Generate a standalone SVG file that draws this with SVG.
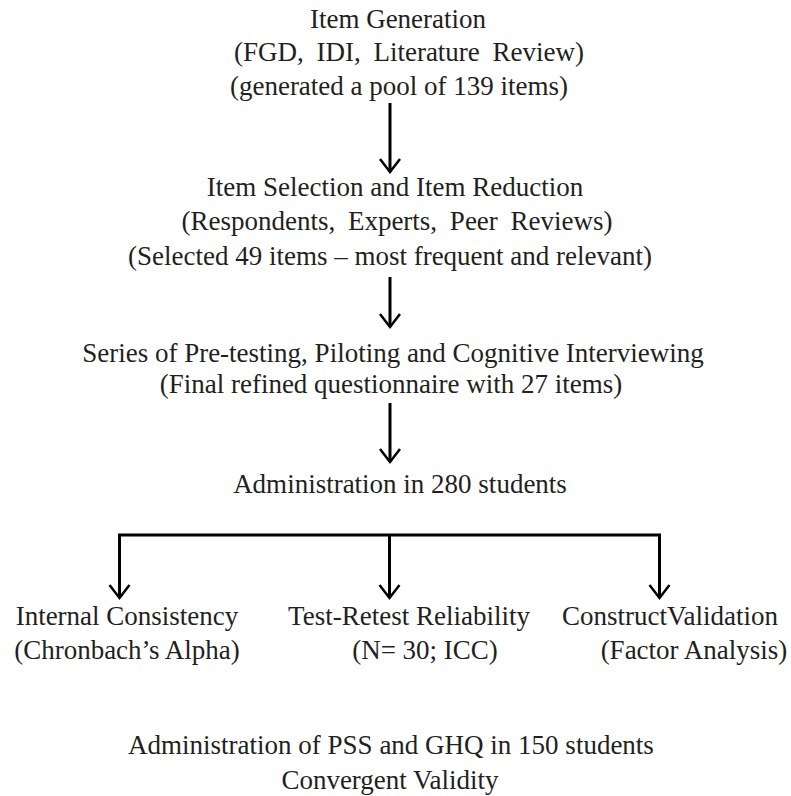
<svg xmlns="http://www.w3.org/2000/svg" width="791" height="796" viewBox="0 0 791 796">
<style>
  text { font-family: "Liberation Serif", "Times New Roman", serif; font-size: 27px; fill: #231f20; }
  .c { text-anchor: middle; }
  .wide { word-spacing: 6px; }
  .conn { stroke: #000; stroke-width: 3; fill: none; }
</style>
<defs>
  <marker id="head" markerUnits="userSpaceOnUse" orient="auto" refX="0" refY="0" markerWidth="20" markerHeight="26" viewBox="-16 -13 20 26" overflow="visible">
    <path d="M -13 -10 L 0 0 L -13 10" fill="none" stroke="#000" stroke-width="2.5" stroke-linejoin="miter"/>
  </marker>
</defs>
<rect width="791" height="796" fill="#fff"/>
<g id="item-generation">
  <text class="c" x="398" y="28">Item Generation</text>
  <text class="c wide" x="409" y="61">(FGD, IDI, Literature Review)</text>
  <text class="c" x="399" y="95">(generated a pool of 139 items)</text>
</g>
<g id="item-selection">
  <text class="c" x="395" y="196">Item Selection and Item Reduction</text>
  <text class="c wide" x="397" y="230">(Respondents, Experts, Peer Reviews)</text>
  <text class="c" x="390" y="265">(Selected 49 items – most frequent and relevant)</text>
</g>
<g id="pretesting">
  <text class="c" x="393" y="362">Series of Pre-testing, Piloting and Cognitive Interviewing</text>
  <text class="c" x="391" y="393">(Final refined questionnaire with 27 items)</text>
</g>
<g id="administration">
  <text class="c" x="400" y="493">Administration in 280 students</text>
</g>
<g id="internal-consistency">
  <text class="c" x="127" y="625">Internal Consistency</text>
  <text class="c" x="127" y="659">(Chronbach’s Alpha)</text>
</g>
<g id="test-retest">
  <text class="c" x="409" y="625">Test-Retest Reliability</text>
  <text class="c" x="425" y="659">(N= 30; ICC)</text>
</g>
<g id="construct-validation">
  <text class="c" x="670" y="625">ConstructValidation</text>
  <text class="c" x="694" y="659">(Factor Analysis)</text>
</g>
<g id="convergent-validity">
  <text class="c" x="391" y="754">Administration of PSS and GHQ in 150 students</text>
  <text class="c" x="390" y="789">Convergent Validity</text>
</g>
<g id="connectors">
  <line class="conn" x1="390" y1="103" x2="390" y2="172" marker-end="url(#head)"/>
  <line class="conn" x1="390" y1="277" x2="390" y2="327" marker-end="url(#head)"/>
  <line class="conn" x1="390" y1="403" x2="390" y2="462" marker-end="url(#head)"/>
  <line class="conn" x1="118" y1="535" x2="661" y2="535"/>
  <line class="conn" x1="119.5" y1="535" x2="119.5" y2="598" marker-end="url(#head)"/>
  <line class="conn" x1="389.5" y1="535" x2="389.5" y2="598" marker-end="url(#head)"/>
  <line class="conn" x1="659.5" y1="535" x2="659.5" y2="598" marker-end="url(#head)"/>
</g>
</svg>
